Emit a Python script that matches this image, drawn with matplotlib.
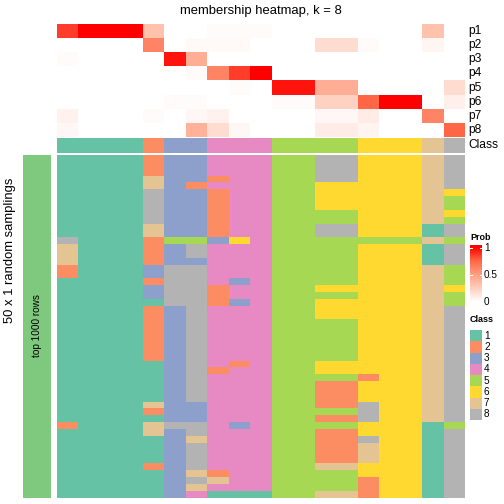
import numpy as np
import matplotlib
matplotlib.use("Agg")
import matplotlib.pyplot as plt
from matplotlib.colors import ListedColormap, LinearSegmentedColormap, BoundaryNorm

plt.rcParams['font.family'] = ['Liberation Sans', 'DejaVu Sans']

W = H = 504

class_colors = ["#66C2A5", "#FC8D62", "#8DA0CB", "#E78AC3",
                "#A6D854", "#FFD92F", "#E5C494", "#B3B3B3"]
class_labels = ["1", "2", "3", "4", "5", "6", "7", "8"]
prob_labels = ["p1", "p2", "p3", "p4", "p5", "p6", "p7", "p8"]

# membership probability of each of the 19 samples
p1 = [0.85, 1, 1, 1, 0.32, 0, 0, 0.02, 0.02, 0.02, 0, 0, 0, 0, 0, 0, 0, 0.32, 0]
p2 = [0, 0, 0, 0, 0.62, 0, 0.03, 0.03, 0.03, 0, 0, 0, 0.18, 0.18, 0.02, 0, 0, 0.05, 0]
p3 = [0.02, 0, 0, 0, 0, 0.95, 0.42, 0, 0, 0, 0, 0, 0, 0, 0, 0, 0, 0, 0]
p4 = [0, 0, 0, 0, 0, 0, 0.02, 0.62, 0.85, 1, 0, 0, 0, 0, 0, 0, 0, 0, 0]
p5 = [0, 0, 0, 0, 0, 0, 0, 0, 0.02, 0, 0.95, 0.95, 0.42, 0.42, 0, 0, 0, 0, 0.18]
p6 = [0, 0, 0, 0, 0, 0.02, 0.02, 0, 0, 0, 0.02, 0.02, 0.24, 0.24, 0.75, 1, 1, 0, 0.08]
p7 = [0.07, 0, 0, 0, 0.02, 0, 0.04, 0.07, 0, 0, 0, 0, 0.04, 0.04, 0.1, 0, 0, 0.62, 0]
p8 = [0.04, 0, 0, 0, 0, 0, 0.4, 0.18, 0.04, 0, 0, 0, 0.1, 0.1, 0.06, 0, 0, 0, 0.75]
membership = [p1, p2, p3, p4, p5, p6, p7, p8]

sample_class = "1111233444555566678"

# class of each sample in the 50 random samplings (one string per sampling)
samplings = [
    "1111233444558866678", "1111233444558866678", "1111233444558866678",
    "1111733244558866678", "1111732444556666678", "1111833244556666676",
    "1111833244556666675", "1111833244556666675", "1111833244555566676",
    "1111833244555566675",
    "1111733244558866618", "1111733244558866618", "8111255364555555575",
    "7111238444555566618", "7111238444555566618", "7111233444555566618",
    "2111388444555566675", "2111388444555566675", "1111288434555566675",
    "1111388244556666676",
    "1111388244555566675", "1111188234556666675", "1111238444556666678",
    "1111238444556666678", "1111238444555566678", "1111238444555566678",
    "1111238444555566678", "1111238444555566678", "1111238444555566678",
    "1111238444555566678",
    "1111138424556666678", "1111138244556666678", "1111138444555526678",
    "1111138444552266678", "1111138444552266678", "1111138444552266678",
    "1111733444552286678", "1111233444555586678", "1111133444552286678",
    "2111788434555566615",
    "1111738444552266618", "1111137444552286618", "1111138444552276618",
    "1111138444552276618", "1111138444552276618", "1111238444557766618",
    "1111137244555566618", "1111138744555526618", "1111137444555526618",
    "1111134111557726618",
]

n_col = len(sample_class)
top_mat = np.array(membership, dtype=float)
cls_mat = np.array([[int(c) for c in sample_class]])
low_mat = np.array([[int(c) for c in s] for s in samplings])

class_cmap = ListedColormap(class_colors)
class_norm = BoundaryNorm(np.arange(0.5, 9.5, 1), 8)
prob_cmap = LinearSegmentedColormap.from_list(
    "prob", [(0, "#FFFFFF"), (0.25, "#FFCFBE"), (0.5, "#FF9E81"),
             (0.75, "#FF6746"), (1, "#FF0000")])


def px_axes(x0, y0, x1, y1):
    a = fig.add_axes([x0 / W, 1 - y1 / H, (x1 - x0) / W, (y1 - y0) / H])
    a.set_axis_off()
    return a


def fx(x): return x / W
def fy(y): return 1 - y / H


fig = plt.figure(figsize=(7, 7), dpi=72)

# top membership heatmap
ax_top = px_axes(57, 24, 465, 137)
ax_top.pcolormesh(top_mat, cmap=prob_cmap, vmin=0, vmax=1, antialiased=False)
ax_top.set_xlim(0, n_col); ax_top.set_ylim(8, 0)

ax_cls = px_axes(57, 138, 465, 153)
ax_cls.pcolormesh(cls_mat, cmap=class_cmap, norm=class_norm, antialiased=False)
ax_cls.set_xlim(0, n_col); ax_cls.set_ylim(1, 0)

# lower sampling heatmap
ax_low = px_axes(57, 155, 465, 497.5)
ax_low.pcolormesh(low_mat, cmap=class_cmap, norm=class_norm, antialiased=False)
ax_low.set_xlim(0, n_col); ax_low.set_ylim(len(samplings), 0)

ax_left = px_axes(23, 155, 51, 497.5)
ax_left.axvspan(0, 1, color="#7FC97F")
ax_left.set_xlim(0, 1)

# texts
fig.text(fx(261), fy(11), "membership heatmap, k = 8", ha="center", va="center", fontsize=13)
row_h = (137 - 24) / 8
for i, lab in enumerate(prob_labels):
    fig.text(fx(468), fy(24 + row_h * (i + 0.5)), lab, ha="left", va="center", fontsize=12)
fig.text(fx(468), fy(145.5), "Class", ha="left", va="center", fontsize=12)
fig.text(fx(10), fy(250), "50 x 1 random samplings", rotation=90, ha="center", va="center", fontsize=13)
fig.text(fx(37), fy(326), "top 1000 rows", rotation=90, ha="center", va="center", fontsize=10)

# Prob legend
fig.text(fx(470), fy(237), "Prob", ha="left", va="center", fontsize=9, fontweight="bold")
ax_cb = px_axes(470, 245, 482, 302)
grad = np.linspace(1.05, 0, 100).reshape(-1, 1)
ax_cb.imshow(grad, cmap=prob_cmap, vmin=0, vmax=1, aspect="auto", extent=(0, 1, 0, 1.05))
ax_cb.set_xlim(0, 1); ax_cb.set_ylim(0, 1.05)
for v in (0, 0.5, 1):
    ax_cb.plot([0, 0.2], [v, v], color="white", lw=1)
    ax_cb.plot([0.8, 1], [v, v], color="white", lw=1)
    fig.text(fx(484), fy(302 - 54 * v), f"{v:g}", ha="left", va="center", fontsize=10)

# Class legend
fig.text(fx(470), fy(320), "Class", ha="left", va="center", fontsize=9, fontweight="bold")
box_h = (420 - 330) / 8
ax_lg = px_axes(470, 330, 482, 420)
ax_lg.pcolormesh(np.arange(1, 9).reshape(-1, 1), cmap=class_cmap, norm=class_norm, antialiased=False)
ax_lg.set_xlim(0, 1); ax_lg.set_ylim(8, 0)
for i, lab in enumerate(class_labels):
    fig.text(fx(484), fy(330 + box_h * (i + 0.5)), lab, ha="left", va="center", fontsize=10)

fig.savefig("out.png", dpi=72)
